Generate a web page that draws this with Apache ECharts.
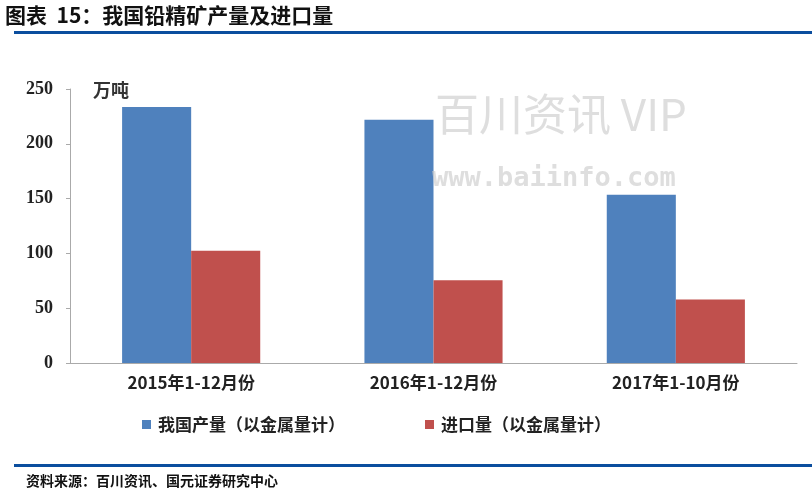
<!DOCTYPE html>
<html><head><meta charset="utf-8">
<script src="https://cdn.jsdelivr.net/npm/echarts@6/dist/echarts.min.js"></script>
<style>html,body{margin:0;padding:0;background:#fff;}#c{width:812px;height:494px;}</style>
</head><body><div id="c"></div>
<script>
const categories = ['2015年1-12月份', '2016年1-12月份', '2017年1-10月份'];
const domestic = [233.5, 222, 153.5];
const imports = [102.5, 75.5, 58];
const seriesNames = ['我国产量（以金属量计）', '进口量（以金属量计）'];
const yTicks = [0, 50, 100, 150, 200, 250];

const chart = echarts.init(document.getElementById('c'));
const cjk = '"Noto Sans CJK SC", "Noto Sans", sans-serif';
chart.setOption({
  animation: false,
  backgroundColor: '#fff',
  grid: { left: 70, right: 15, top: 89, bottom: 131 },
  legend: {
    bottom: 56, left: 137, itemWidth: 9, itemHeight: 9, itemGap: 80,
    icon: 'rect',
    textStyle: { fontFamily: cjk, fontSize: 17, fontWeight: 'bold', color: '#222', padding: [0, 0, 0, 2] },
    data: seriesNames
  },
  xAxis: {
    type: 'category', data: categories,
    axisLine: { lineStyle: { color: '#aaa' } },
    axisTick: { inside: true, length: 3, lineStyle: { color: '#aaa' } },
    axisLabel: { fontFamily: cjk, fontSize: 17, fontWeight: 'bold', color: '#222', margin: 11 }
  },
  yAxis: {
    type: 'value', min: yTicks[0], max: yTicks[yTicks.length - 1], interval: 50,
    splitLine: { show: false },
    axisLine: { show: true, lineStyle: { color: '#aaa' } },
    axisTick: { show: true, length: 4, lineStyle: { color: '#aaa' } },
    axisLabel: { fontFamily: '"Liberation Serif", serif', fontSize: 18, fontWeight: 'bold', color: '#222', margin: 17 }
  },
  series: [
    { name: seriesNames[0], type: 'bar', data: domestic, barGap: '0%', barCategoryGap: '43%', itemStyle: { color: '#4f81bd' } },
    { name: seriesNames[1], type: 'bar', data: imports, itemStyle: { color: '#c0504d' } }
  ],
  graphic: [
    { type: 'text', left: 5, top: 5, style: { text: '图表  15：我国铅精矿产量及进口量', font: 'bold 21px ' + cjk, fill: '#111' } },
    { type: 'rect', shape: { x: 14, y: 31, width: 798, height: 3 }, style: { fill: '#0b4e9e' } },
    { type: 'rect', shape: { x: 14, y: 464, width: 798, height: 3 }, style: { fill: '#0b4e9e' } },
    { type: 'text', left: 26, top: 474, style: { text: '资料来源：百川资讯、国元证券研究中心', font: 'bold 14px ' + cjk, fill: '#111' } },
    { type: 'text', left: 93, top: 81, style: { text: '万吨', font: 'bold 18px ' + cjk, fill: '#333' } },
    { type: 'text', left: 435, top: 92, z: 100, style: { text: '百川资讯 VIP', font: '44px ' + cjk, fill: 'rgba(200,200,200,0.6)' } },
    { type: 'text', left: 432, top: 165, z: 100, style: { text: 'www.baiinfo.com', font: 'bold 27px "DejaVu Sans Mono", monospace', fill: 'rgba(200,200,200,0.6)' } }
  ]
});
</script></body></html>
